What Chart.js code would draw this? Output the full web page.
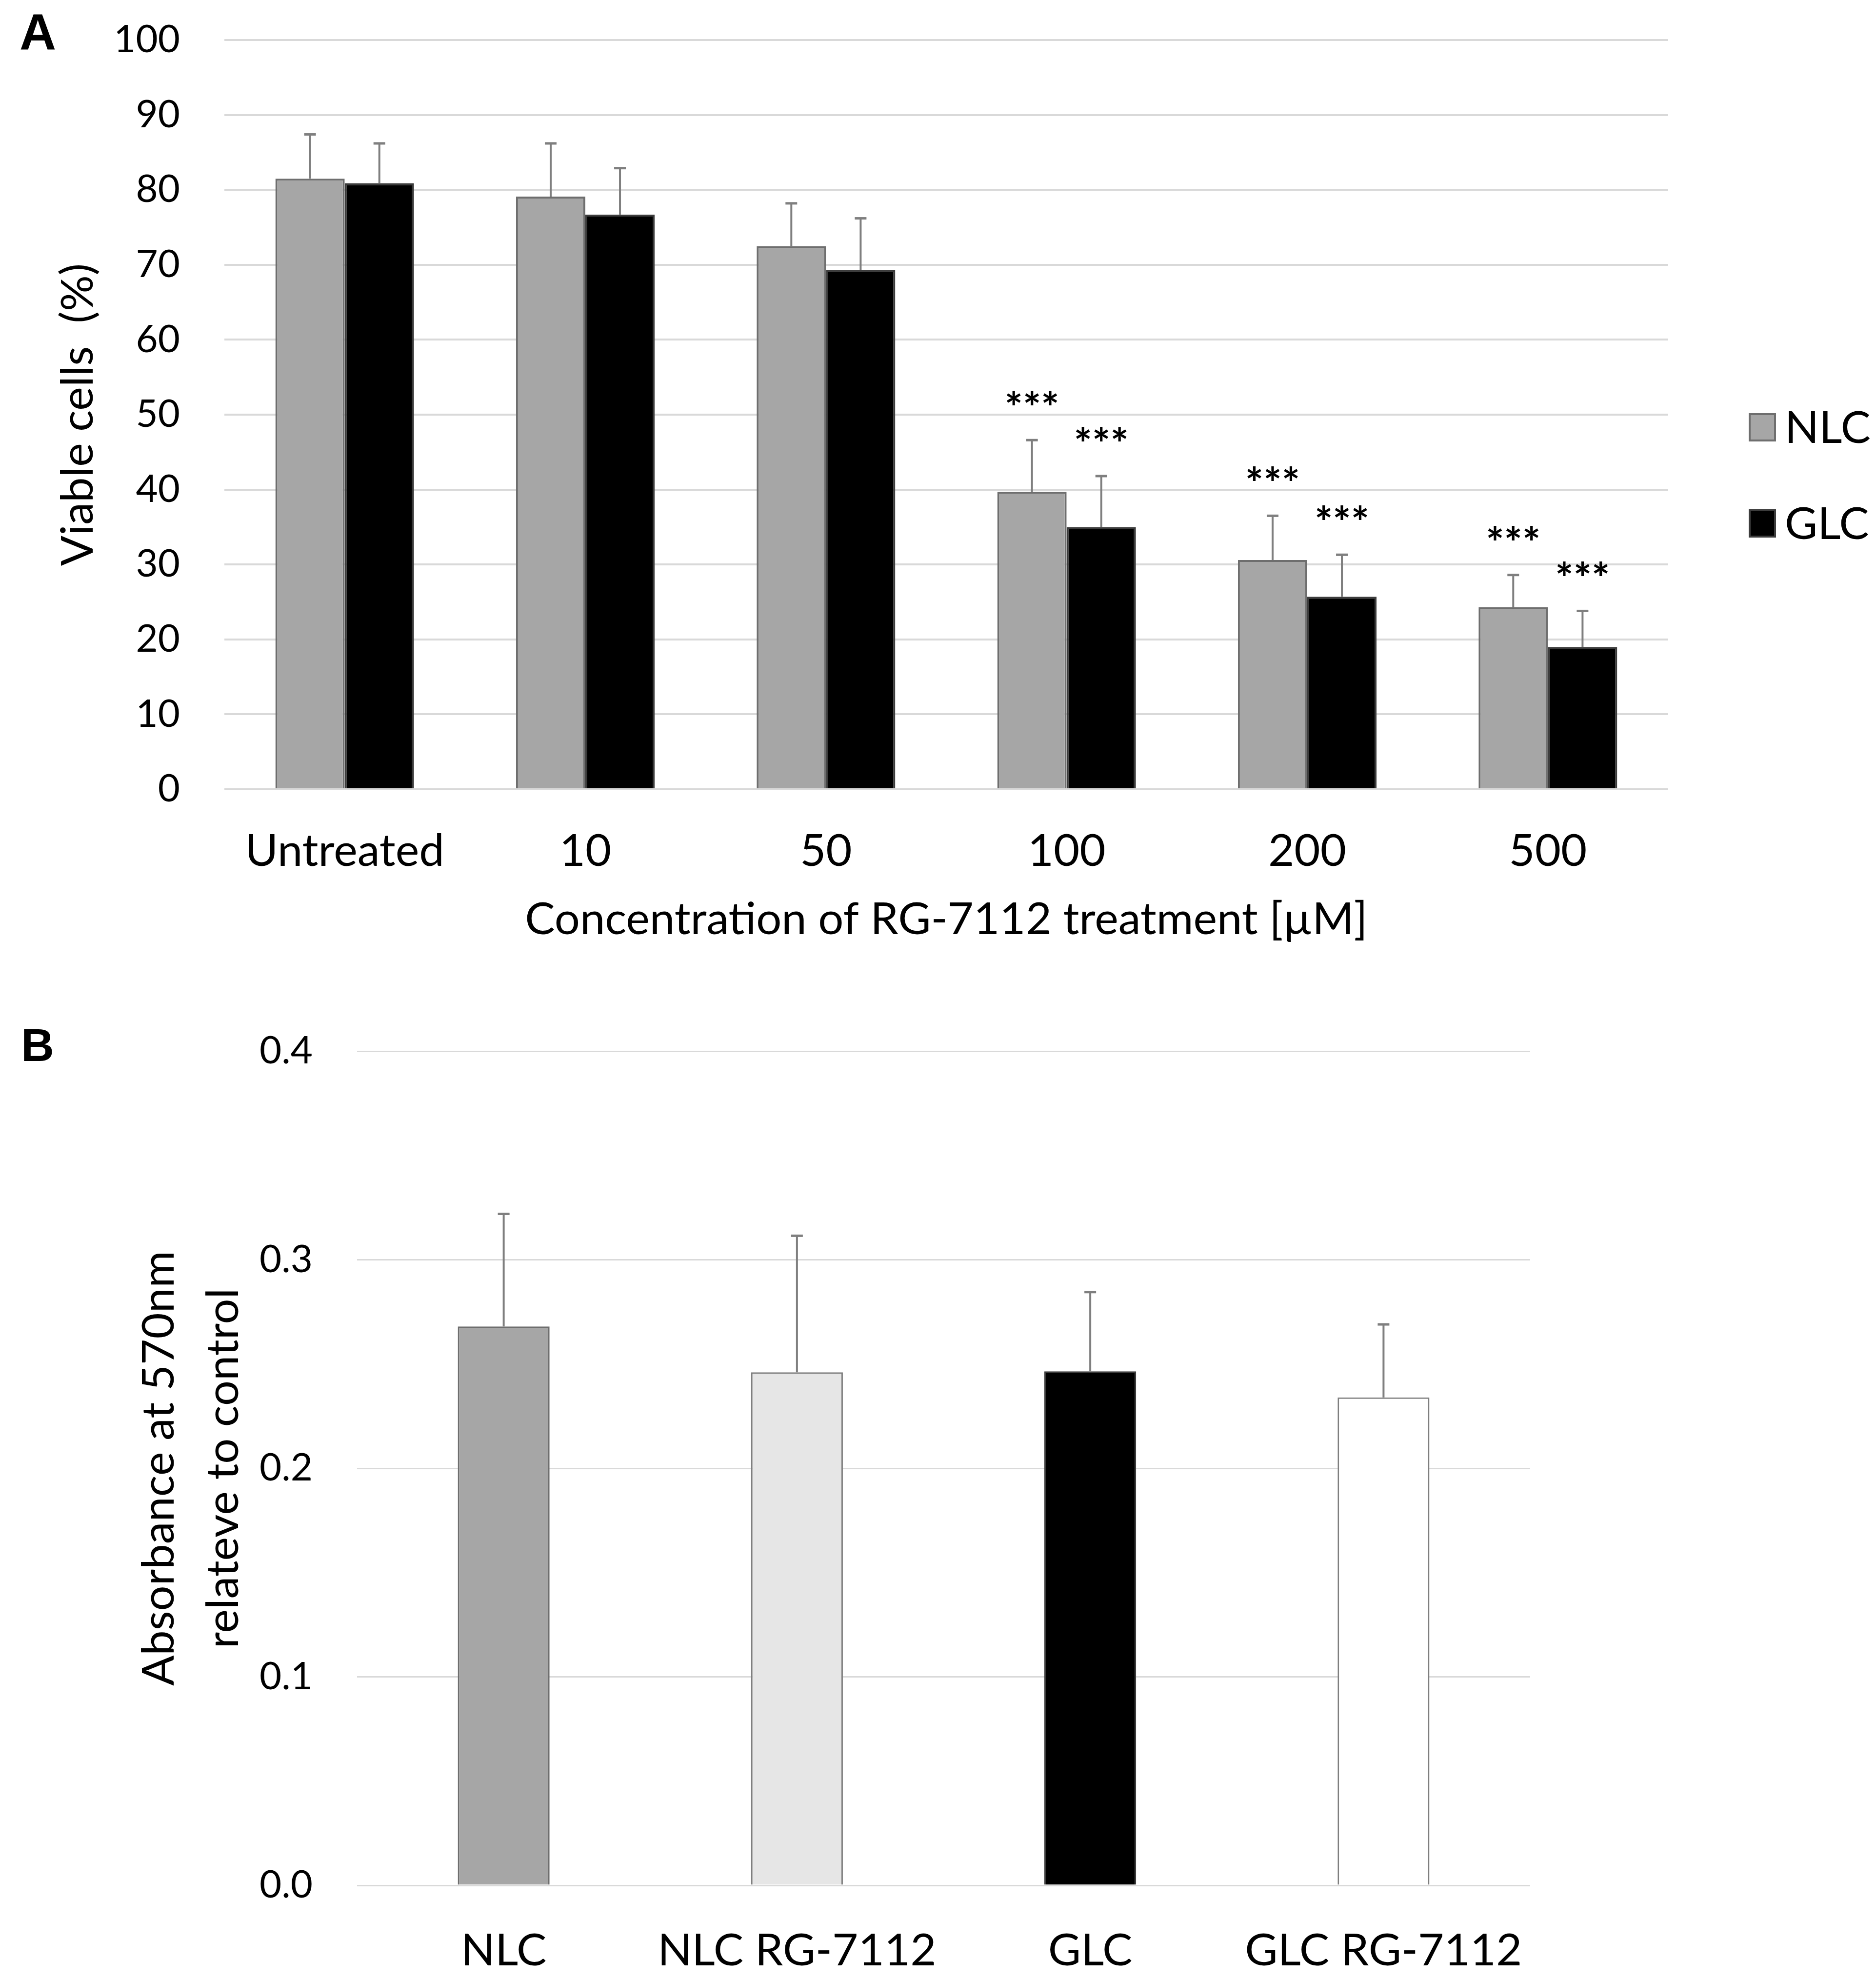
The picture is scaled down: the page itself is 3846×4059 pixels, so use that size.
<!DOCTYPE html>
<html><head><meta charset="utf-8">
<script src="https://cdn.jsdelivr.net/npm/chart.js@4.4.1/dist/chart.umd.min.js"></script>
<style>
html,body{margin:0;padding:0;background:#fff;width:3846px;height:4059px;overflow:hidden}
.box{position:absolute;left:0;width:3846px}
</style></head><body>
<div class="box" style="top:0;height:1990px"><canvas id="ca"></canvas></div>
<div class="box" style="top:1990px;height:2069px"><canvas id="cb"></canvas></div>
<script>
// ---------- data: panel A ----------
const concLabels = ['Untreated', '10', '50', '100', '200', '500'];
const nlcViable  = [81.5, 79.1, 72.5, 39.7, 30.6, 24.3];
const nlcSD      = [5.9, 7.1, 5.7, 6.9, 5.9, 4.3];
const glcViable  = [80.9, 76.7, 69.3, 35.0, 25.7, 19.0];
const glcSD      = [5.3, 6.2, 6.9, 6.8, 5.6, 4.8];
const nlcSig     = ['', '', '', '***', '***', '***'];
const glcSig     = ['', '', '', '***', '***', '***'];
const yTicksA    = [0, 10, 20, 30, 40, 50, 60, 70, 80, 90, 100];

// ---------- data: panel B ----------
const groupLabels = ['NLC', 'NLC RG-7112', 'GLC', 'GLC RG-7112'];
const absorbance  = [0.268, 0.246, 0.2465, 0.234];
const absSD       = [0.054, 0.0655, 0.038, 0.035];
const yTicksB     = [0.0, 0.1, 0.2, 0.3, 0.4];

const FONT = 'Lato';
const TXT = '#000000';

const errorBarPlugin = {
  id: 'errBars',
  afterDatasetsDraw(chart, args, opts) {
    const ctx = chart.ctx;
    const ys = chart.scales.y;
    chart.data.datasets.forEach((ds, d) => {
      const meta = chart.getDatasetMeta(d);
      const errs = opts.errors[d];
      const sigs = opts.sig ? opts.sig[d] : null;
      meta.data.forEach((bar, i) => {
        const top = ys.getPixelForValue(ds.data[i] + errs[i]);
        ctx.save();
        ctx.strokeStyle = '#7f7f7f';
        ctx.lineWidth = 4;
        ctx.beginPath();
        ctx.moveTo(bar.x, bar.y);
        ctx.lineTo(bar.x, top);
        ctx.stroke();
        ctx.lineWidth = 5;
        ctx.beginPath();
        ctx.moveTo(bar.x - 12, top);
        ctx.lineTo(bar.x + 12, top);
        ctx.stroke();
        if (sigs && sigs[i]) {
          ctx.fillStyle = TXT;
          ctx.font = 'bold 88px ' + FONT;
          ctx.textAlign = 'center';
          ctx.textBaseline = 'alphabetic';
          ctx.fillText(sigs[i], bar.x, top - 82 + 48);
        }
        ctx.restore();
      });
    });
  }
};

const decorPlugin = {
  id: 'decor',
  afterDraw(chart, args, opts) {
    const ctx = chart.ctx;
    ctx.save();
    ctx.fillStyle = TXT;
    ctx.font = 'bold ' + opts.letterSize + 'px "Liberation Sans"';
    ctx.textAlign = 'left';
    ctx.textBaseline = 'alphabetic';
    ctx.fillText(opts.letter, opts.letterX, opts.letterY);
    if (opts.legend) {
      chart.data.datasets.forEach((ds, d) => {
        const cy = opts.legend.y[d];
        ctx.fillStyle = ds.backgroundColor;
        ctx.strokeStyle = ds.borderColor;
        ctx.lineWidth = 4;
        ctx.fillRect(3587, cy - 27, 52, 54);
        ctx.strokeRect(3587, cy - 27, 52, 54);
        ctx.fillStyle = TXT;
        ctx.font = '92px ' + FONT;
        ctx.textBaseline = 'middle';
        ctx.fillText(ds.label, 3659, cy + 2);
      });
    }
    ctx.restore();
  }
};

function build() {
  new Chart(document.getElementById('ca'), {
    type: 'bar',
    data: {
      labels: concLabels,
      datasets: [
        { label: 'NLC', data: nlcViable, backgroundColor: '#a6a6a6', borderColor: '#6e6e6e', borderWidth: 4 },
        { label: 'GLC', data: glcViable, backgroundColor: '#000000', borderColor: '#3c3c3c', borderWidth: 4 }
      ]
    },
    options: {
      responsive: true, maintainAspectRatio: false, animation: false, devicePixelRatio: 1,
      categoryPercentage: 0.576, barPercentage: 1,
      layout: { padding: { left: 0, top: 82, right: 426, bottom: 0 } },
      plugins: {
        legend: { display: false }, tooltip: { enabled: false },
        errBars: { errors: [nlcSD, glcSD], sig: [nlcSig, glcSig] },
        decor: { letter: 'A', letterX: 40, letterY: 101, letterSize: 104, legend: { y: [876, 1073] } }
      },
      scales: {
        x: {
          grid: { display: false, drawTicks: false }, border: { display: false },
          ticks: { font: { family: FONT, size: 92 }, color: TXT, padding: 72, maxRotation: 0, autoSkip: false },
          title: { display: true, text: 'Concentration of RG-7112 treatment [µM]', font: { family: FONT, size: 92 }, color: TXT, padding: { top: 0, bottom: 49 } },
          afterFit: s => { s.height = 372; }
        },
        y: {
          min: 0, max: 100,
          afterBuildTicks: s => { s.ticks = yTicksA.map(v => ({ value: v })); },
          ticks: { font: { family: FONT, size: 78 }, color: TXT, padding: 91 },
          grid: { color: '#d9d9d9', lineWidth: 4, drawTicks: false }, border: { display: false },
          title: { display: true, text: 'Viable cells  (%)', font: { family: FONT, size: 92 }, color: TXT, padding: { top: 105, bottom: 0 } },
          afterFit: s => { s.width = 460; s.paddingTop = 0; s.paddingBottom = 0; }
        }
      }
    },
    plugins: [errorBarPlugin, decorPlugin]
  });

  new Chart(document.getElementById('cb'), {
    type: 'bar',
    data: {
      labels: groupLabels,
      datasets: [
        { label: 'Absorbance', data: absorbance,
          backgroundColor: ['#a6a6a6', '#e6e6e6', '#000000', '#ffffff'],
          borderColor: ['#6e6e6e', '#7f7f7f', '#3c3c3c', '#7f7f7f'], borderWidth: 3 }
      ]
    },
    options: {
      responsive: true, maintainAspectRatio: false, animation: false, devicePixelRatio: 1,
      categoryPercentage: 0.313, barPercentage: 1,
      layout: { padding: { left: 0, top: 165, right: 709, bottom: 0 } },
      plugins: {
        legend: { display: false }, tooltip: { enabled: false },
        errBars: { errors: [absSD] },
        decor: { letter: 'B', letterX: 43, letterY: 185, letterSize: 94 }
      },
      scales: {
        x: {
          grid: { display: false, drawTicks: false }, border: { display: false },
          ticks: { font: { family: FONT, size: 92 }, color: TXT, padding: 79, maxRotation: 0, autoSkip: false },
          afterFit: s => { s.height = 194; }
        },
        y: {
          min: 0, max: 0.4,
          afterBuildTicks: s => { s.ticks = yTicksB.map(v => ({ value: v })); },
          ticks: { font: { family: FONT, size: 78 }, color: TXT, padding: 91, callback: v => Number(v).toFixed(1) },
          grid: { color: '#d9d9d9', lineWidth: 3, drawTicks: false }, border: { display: false },
          title: { display: true, text: ['Absorbance at 570nm', 'relateve to control'], font: { family: FONT, size: 92, lineHeight: '132px' }, color: TXT, padding: { top: 260, bottom: 0 } },
          afterFit: s => { s.width = 732; s.paddingTop = 0; s.paddingBottom = 0; }
        }
      }
    },
    plugins: [errorBarPlugin, decorPlugin]
  });
}

if (document.fonts && document.fonts.load) {
  Promise.all([document.fonts.load('92px Lato'), document.fonts.load('bold 92px Lato'), document.fonts.load('bold 100px "Liberation Sans"')])
    .then(build, build);
} else { build(); }
</script>
</body></html>
